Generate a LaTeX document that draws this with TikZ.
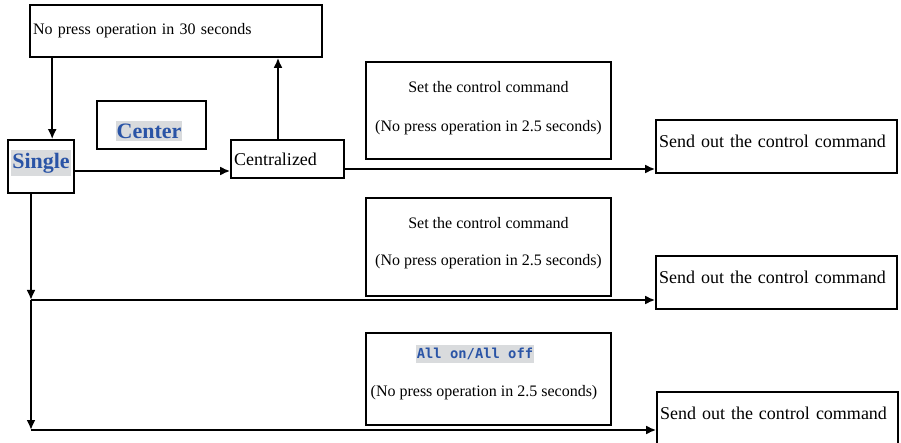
\documentclass[tikz,border=0pt]{standalone}
\usepackage{fontspec}
\setmainfont{Liberation Serif}
\newfontfamily\monobold{DejaVu Sans Mono}
\usetikzlibrary{arrows.meta}
\definecolor{keyblue}{HTML}{2A54A6}
\definecolor{hlgray}{HTML}{D9DBDD}
\tikzset{box/.style={draw,line width=1.6pt,inner sep=0pt},
  txtbox/.style={box,inner xsep=3pt,align=left},
  sendbox/.style={txtbox,text width=235,minimum height=53,text depth=11pt,font=\fontsize{18}{21}\selectfont},
  key/.style={fill=hlgray,text=keyblue,inner xsep=1pt,inner ysep=3pt,font=\fontsize{22}{24}\selectfont\bfseries},
  arr/.style={line width=2.2pt,-{Latex[length=10pt,width=9pt]}},
}

\begin{document}
\begin{tikzpicture}[x=1pt,y=-1pt,font=\fontsize{16}{19}\selectfont]
	\useasboundingbox (0,0) rectangle (901,443);
	% left column
	\node[txtbox,text width=286,minimum height=52] (top) at (176,31) {No press operation in 30 seconds};
	\node[box,minimum width=66,minimum height=53] (single) at (41,166.5) {};
	\node[key] (singlekey) at (41,163) {Single};
	\node[box,minimum width=109,minimum height=48] (center) at (151.5,125) {};
	\node[key] (centerkey) at (149,131) {Center};
	\node[txtbox,text width=107,minimum height=38,font=\fontsize{18}{21}\selectfont] (central) at (287.5,159) {Centralized};
	
	% command boxes
	\node[box,minimum width=245,minimum height=97] (set1) at (488.5,110.5) {};
	\node[align=center,font=\fontsize{16}{39}\selectfont] at ([yshift=2.5]set1.center) {Set the control command\\(No press operation in 2.5 seconds)};
	\node[box,minimum width=245,minimum height=98] (set2) at (488.5,247) {};
	\node[align=center,font=\fontsize{16}{37}\selectfont] at ([yshift=3.5]set2.center) {Set the control command\\(No press operation in 2.5 seconds)};
	\node[box,minimum width=245,minimum height=92] (set3) at (488.5,379) {};
	\node[key,font=\fontsize{13.8}{16}\monobold\bfseries,inner ysep=3.5pt] (allkey) at (475,354) {All on/All off};
	\node at (484,393) {(No press operation in 2.5 seconds)};
	
	% send boxes
	\node[sendbox] (send1) at (776.5,146.5) {Send out the control command};
	\node[sendbox] (send2) at (776.5,282.5) {Send out the control command};
	\node[sendbox,minimum height=58,text depth=16pt] (send3) at (777.5,421) {Send out the control command};
	
	\coordinate (j1) at (31,300);
	\coordinate (j2) at (31,430);
	
	\draw[arr] ([xshift=23]top.south west) -- ([xshift=23]top.south west |- single.north);
	\draw[arr] ([yshift=-4.5]single.east) -- ([yshift=-4.5]single.east -| central.west);
	\draw[arr] ([xshift=-9.5]central.north) -- ([xshift=-9.5]central.north |- top.south);
	\draw[arr] ([yshift=-10]central.east) -- ([yshift=-10]central.east -| send1.west);
	\draw[arr] ([xshift=-10]single.south) -- (j1);
	\draw[arr] (j1) -- (j2);
	\draw[arr] (j1) -- (j1 -| send2.west);
	\draw[arr] (j2) -- (j2 -| send3.west);
\end{tikzpicture}
\end{document}
